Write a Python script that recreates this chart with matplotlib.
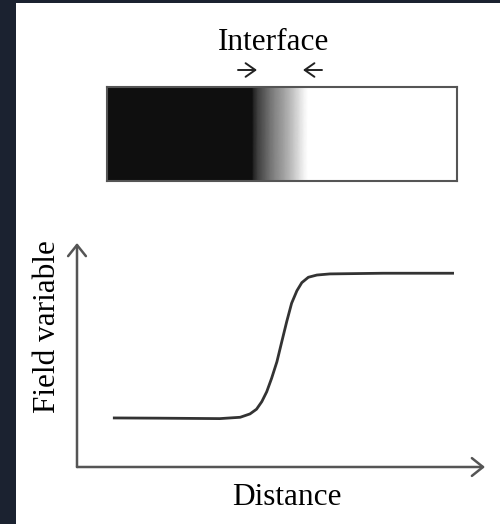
import matplotlib

matplotlib.use("Agg")
import matplotlib.pyplot as plt
import numpy as np
from matplotlib.patches import FancyArrowPatch, Rectangle

# curve (distance, field variable)
distance = [8.8, 20.0, 35.0, 40.0, 42.4, 44.0, 45.3, 46.5, 47.7, 49.0, 50.2, 51.4, 52.6, 53.9,
            55.1, 56.7, 58.8, 62.0, 75.0, 92.4]
field = [0.219, 0.218, 0.216, 0.222, 0.237, 0.258, 0.292, 0.336, 0.396, 0.470, 0.560, 0.649,
         0.731, 0.787, 0.823, 0.847, 0.857, 0.862, 0.865, 0.865]

# grey level across the bar (0 = black, 1 = white), position as fraction of bar length
bar_pos = [0.0, 0.414, 0.420, 0.431, 0.443, 0.454, 0.466, 0.480, 0.494, 0.509, 0.523, 0.537, 0.551, 0.563, 0.574, 1.0]
bar_grey = [0.06, 0.06, 0.15, 0.25, 0.32, 0.38, 0.45, 0.52, 0.58, 0.65, 0.72, 0.80, 0.88, 0.95, 1.0, 1.0]

W, H = 500, 524
SERIF = ["Liberation Serif", "DejaVu Serif"]


def fx(px):
    return px / W


def fy(py):
    return 1 - py / H


fig = plt.figure(figsize=(5.0, 5.24), dpi=100, facecolor="#1b2230")
fig.patches.append(Rectangle((fx(16), 0), 1 - fx(16), fy(3), transform=fig.transFigure,
                             facecolor="white", edgecolor="none", zorder=-5))

# top bar with the diffuse interface
bar_ax = fig.add_axes([fx(107), fy(181), fx(350), 94 / H], zorder=2)
bar_ax.pcolormesh(bar_pos, [0, 1], np.vstack([bar_grey, bar_grey]), shading="gouraud",
                  cmap="gray", vmin=0, vmax=1)
bar_ax.set_xlim(0, 1)
bar_ax.set_ylim(0, 1)
bar_ax.set_xticks([])
bar_ax.set_yticks([])
for spine in bar_ax.spines.values():
    spine.set_color("#555555")
    spine.set_linewidth(1.5)

fig.text(fx(274), fy(50), "Interface", family=SERIF, fontsize=22.5, ha="center", va="baseline")
arrow_kw = dict(arrowstyle="->,head_length=0.5,head_width=0.35", color="#222222", lw=1.4,
                shrinkA=0, shrinkB=0, mutation_scale=14)
fig.add_artist(FancyArrowPatch((fx(238), fy(70)), (fx(257), fy(70)),
                               transform=fig.transFigure, **arrow_kw))
fig.add_artist(FancyArrowPatch((fx(322), fy(70)), (fx(303), fy(70)),
                               transform=fig.transFigure, **arrow_kw))

# lower panel: field variable profile
ax = fig.add_axes([fx(77), fy(467), fx(408), 224 / H], zorder=2)
ax.plot(distance, field, color="#333333", lw=2.0, solid_capstyle="butt", solid_joinstyle="round")
ax.set_xlim(0, 100)
ax.set_ylim(0, 1)
ax.set_xticks([])
ax.set_yticks([])
ax.patch.set_alpha(0)
for spine in ax.spines.values():
    spine.set_visible(False)
axis_kw = dict(arrowstyle="->,head_length=0.5,head_width=0.4", color="#555555", lw=1.8,
               shrinkA=0, shrinkB=0, mutation_scale=16)
ax.annotate("", xy=(0, 1), xytext=(0, 0), xycoords="axes fraction", arrowprops=axis_kw,
            annotation_clip=False)
ax.annotate("", xy=(1, 0), xytext=(0, 0), xycoords="axes fraction", arrowprops=axis_kw,
            annotation_clip=False)

fig.text(fx(287), fy(505), "Distance", family=SERIF, fontsize=22.5, ha="center", va="baseline")
fig.text(fx(48), fy(327), "Field variable", family=SERIF, fontsize=22.5, rotation=90,
         ha="center", va="center")

fig.savefig("out.png", dpi=100, facecolor=fig.get_facecolor())
